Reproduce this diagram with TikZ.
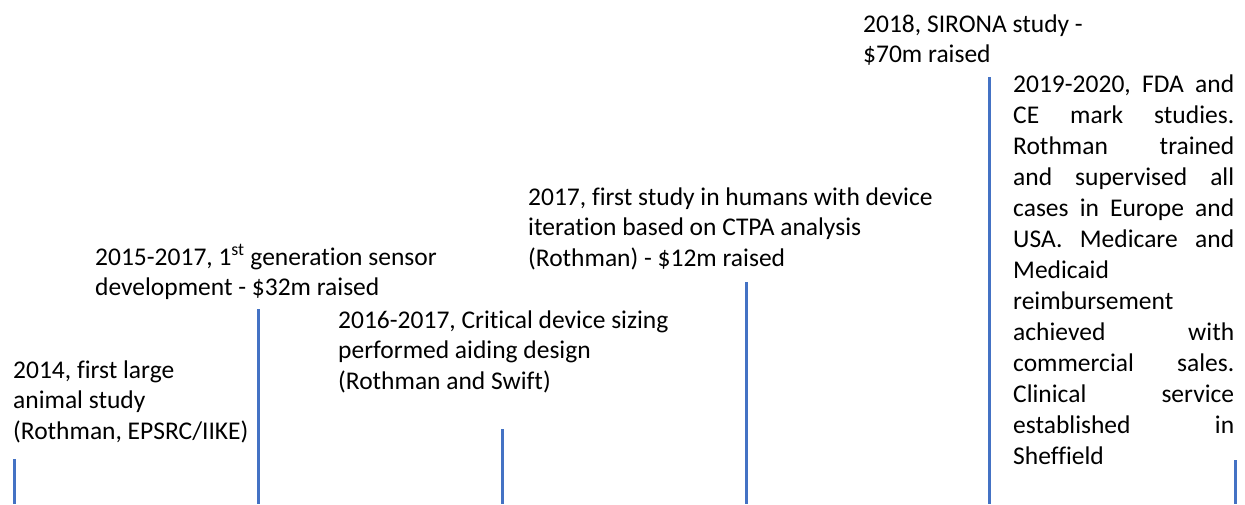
\documentclass[tikz,border=0pt]{standalone}
\usepackage{fontspec}
\setmainfont[Ligatures=NoCommon]{Carlito}
\definecolor{lineblue}{HTML}{4472C4}
\begin{document}
\begin{tikzpicture}[x=1pt,y=-1pt,
  lbl/.style={anchor=base west,inner sep=0pt,align=left,font=\fontsize{25.5}{30.5}\selectfont},
  tick/.style={draw=lineblue,line width=3pt}]
\useasboundingbox (0,0) rectangle (1245,504);
% anchors are the baseline of the last line
\node[lbl] (t1) at (13,439) {2014, first large\\animal study\\(Rothman, EPSRC/IIKE)};
\node[lbl] (t2) at (95,295.5) {2015-2017, 1\textsuperscript{st} generation sensor\\development - \$32m raised};
\node[lbl] (t3) at (338,389) {2016-2017, Critical device sizing\\performed aiding design\\(Rothman and Swift)};
\node[lbl] (t4) at (528,266) {2017, first study in humans with device\\iteration based on CTPA analysis\\(Rothman) - \$12m raised};
\node[lbl] (t5) at (863,62.5) {2018, SIRONA study -\\\$70m raised};
\node[lbl,font=\fontsize{25.5}{31}\selectfont] (t6) at (1013,464) {%
\hbox to 221pt{2019-2020,\hfill FDA\hfill and}\\
\hbox to 221pt{CE\hfill mark\hfill studies.}\\
\hbox to 221pt{Rothman\hfill trained}\\
\hbox to 221pt{and\hfill supervised\hfill all}\\
\hbox to 221pt{cases\hfill in\hfill Europe\hfill and}\\
\hbox to 221pt{USA.\hfill Medicare\hfill and}\\
Medicaid\\
reimbursement\\
\hbox to 221pt{achieved\hfill with}\\
\hbox to 221pt{commercial\hfill sales.}\\
\hbox to 221pt{Clinical\hfill service}\\
\hbox to 221pt{established\hfill in}\\
Sheffield};
\coordinate (a1) at (14,459); \coordinate (b1) at (14,504);
\coordinate (a2) at (258,309); \coordinate (b2) at (258,504);
\coordinate (a3) at (502,429); \coordinate (b3) at (502,504);
\coordinate (a4) at (746,282); \coordinate (b4) at (746,504);
\coordinate (a5) at (989,77); \coordinate (b5) at (989,504);
\coordinate (a6) at (1235,460); \coordinate (b6) at (1235,504);
\foreach \i in {1,...,6} {\draw[tick] (a\i) -- (b\i);}
\end{tikzpicture}
\end{document}
